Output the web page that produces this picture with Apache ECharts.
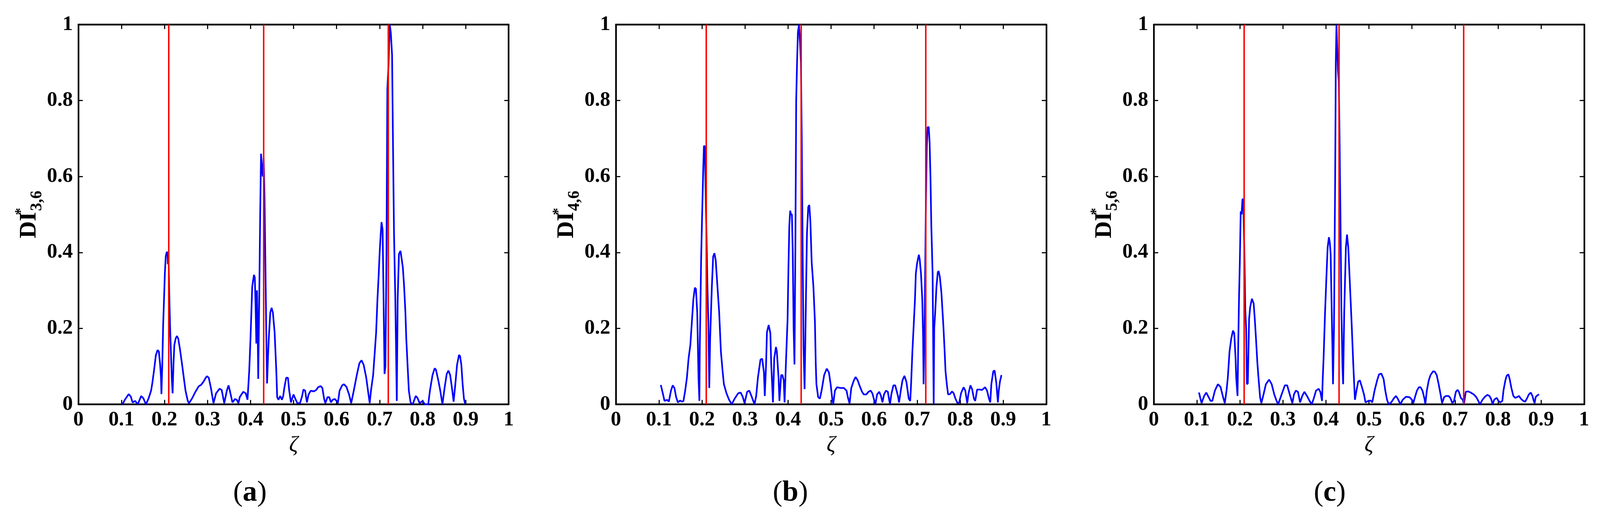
<!DOCTYPE html>
<html>
<head>
<meta charset="utf-8">
<script src="https://cdn.jsdelivr.net/npm/echarts@6/dist/echarts.min.js"></script>
<style>
html,body{margin:0;padding:0;background:#fff;overflow:hidden;}
#chart{position:absolute;left:0;top:0;width:100vw;height:100vh;}
</style>
</head>
<body>
<div id="chart"></div>
<script>
// ---------- DATA ----------
const xTicks = [0, 0.1, 0.2, 0.3, 0.4, 0.5, 0.6, 0.7, 0.8, 0.9, 1];
const yTicks = [0, 0.2, 0.4, 0.6, 0.8, 1];
const damageLocations = [0.209, 0.43, 0.723];
const captions = ['a', 'b', 'c'];
const yNames = ['3,6', '4,6', '5,6'];

// Panel (a): DI*_{3,6}
const zetaA = [0.1027,0.108,0.117,0.122,0.126,0.132,0.138,0.146,0.151,0.157,0.163,0.169,0.172,0.176,0.18,0.184,0.187,0.19,0.192,0.193,0.195,0.197,0.199,0.201,0.203,0.205,0.207,0.208,0.2095,0.2115,0.213,0.215,0.217,0.219,0.221,0.223,0.226,0.229,0.232,0.236,0.241,0.245,0.249,0.254,0.257,0.264,0.272,0.28,0.285,0.291,0.296,0.299,0.303,0.308,0.314,0.32,0.328,0.333,0.339,0.345,0.349,0.352,0.358,0.364,0.368,0.372,0.375,0.383,0.389,0.393,0.397,0.4,0.404,0.408,0.41,0.412,0.4135,0.415,0.4165,0.418,0.4205,0.4225,0.4245,0.4265,0.4285,0.4305,0.4325,0.4345,0.4365,0.4385,0.4405,0.4425,0.446,0.449,0.452,0.456,0.458,0.46,0.462,0.465,0.469,0.473,0.476,0.479,0.483,0.487,0.49,0.494,0.5,0.504,0.509,0.515,0.52,0.523,0.527,0.531,0.535,0.54,0.547,0.553,0.557,0.563,0.567,0.571,0.574,0.579,0.583,0.587,0.591,0.596,0.6,0.603,0.607,0.613,0.617,0.623,0.629,0.634,0.64,0.647,0.653,0.658,0.663,0.669,0.673,0.677,0.68,0.685,0.688,0.692,0.695,0.698,0.7,0.702,0.7045,0.707,0.709,0.7115,0.7135,0.716,0.718,0.721,0.7235,0.726,0.729,0.731,0.7335,0.7365,0.74,0.742,0.745,0.7485,0.751,0.754,0.757,0.76,0.762,0.765,0.768,0.772,0.777,0.784,0.788,0.793,0.8,0.805,0.813,0.817,0.823,0.828,0.831,0.837,0.841,0.846,0.851,0.856,0.86,0.864,0.869,0.872,0.876,0.88,0.8845,0.887,0.89,0.893,0.896,0.899];
const diA = [0,0.012,0.027,0.02,0.005,0.009,0,0.022,0.016,0,0.015,0.036,0.057,0.091,0.129,0.143,0.139,0.105,0.07,0.027,0.105,0.208,0.276,0.345,0.389,0.4,0.401,0.369,0.39,0.276,0.208,0.139,0.07,0.029,0.105,0.156,0.173,0.18,0.173,0.146,0.105,0.07,0.036,0.01,0.003,0.015,0.033,0.048,0.051,0.06,0.07,0.074,0.07,0.043,0.003,0.029,0.041,0.038,0.003,0.036,0.05,0.036,0.005,0.014,0.012,0.003,0.019,0.033,0.029,0.012,0.087,0.173,0.31,0.341,0.334,0.25,0.16,0.3,0.2,0.067,0.3,0.5,0.66,0.62,0.6,0.65,0.55,0.38,0.2,0.055,0.12,0.173,0.242,0.254,0.242,0.19,0.139,0.087,0.019,0.012,0.022,0.012,0.022,0.046,0.07,0.07,0.036,0.005,0.026,0.015,0.003,0.003,0.022,0.039,0.036,0.005,0.026,0.036,0.034,0.038,0.045,0.048,0.043,0.015,0.003,0.019,0.019,0.005,0.012,0.014,0.009,0.003,0.036,0.05,0.053,0.046,0.026,0.003,0.036,0.077,0.108,0.116,0.104,0.07,0.036,0.003,0.036,0.077,0.125,0.19,0.276,0.344,0.396,0.437,0.48,0.46,0.3,0.08,0.1,0.4,0.83,0.9,1.0,0.98,0.92,0.7,0.45,0.28,0.009,0.276,0.396,0.404,0.385,0.361,0.31,0.242,0.173,0.104,0.036,0.005,0,0.022,0.017,0.003,0.009,0,0,0.036,0.077,0.095,0.091,0.06,0.036,0,0.043,0.08,0.089,0.077,0.036,0.007,0.053,0.104,0.13,0.127,0.104,0.053,0.015,0];

// Panel (b): DI*_{4,6}
const zetaB = [0.1044,0.109,0.113,0.119,0.123,0.128,0.132,0.136,0.14,0.144,0.149,0.154,0.157,0.161,0.165,0.169,0.173,0.177,0.18,0.1835,0.186,0.189,0.192,0.194,0.195,0.1965,0.198,0.2,0.2016,0.203,0.2045,0.2065,0.208,0.2095,0.211,0.213,0.215,0.217,0.219,0.223,0.226,0.229,0.232,0.236,0.24,0.244,0.248,0.251,0.257,0.263,0.269,0.276,0.284,0.29,0.295,0.299,0.305,0.31,0.315,0.322,0.326,0.33,0.336,0.34,0.344,0.346,0.349,0.351,0.355,0.359,0.361,0.365,0.368,0.372,0.374,0.378,0.38,0.384,0.387,0.39,0.392,0.395,0.399,0.401,0.403,0.405,0.407,0.409,0.411,0.413,0.415,0.417,0.419,0.421,0.423,0.4255,0.428,0.43,0.432,0.434,0.436,0.4385,0.441,0.444,0.447,0.4495,0.452,0.455,0.459,0.4625,0.4645,0.466,0.47,0.474,0.478,0.484,0.49,0.495,0.499,0.503,0.505,0.509,0.514,0.522,0.53,0.536,0.539,0.543,0.547,0.553,0.557,0.562,0.566,0.572,0.576,0.582,0.587,0.592,0.596,0.6,0.603,0.607,0.612,0.616,0.6195,0.623,0.6275,0.632,0.635,0.637,0.64,0.645,0.649,0.653,0.656,0.658,0.662,0.666,0.6705,0.675,0.678,0.6805,0.684,0.686,0.689,0.692,0.695,0.697,0.7,0.704,0.706,0.709,0.712,0.714,0.715,0.717,0.7186,0.7206,0.7225,0.7245,0.727,0.729,0.731,0.733,0.736,0.7385,0.7398,0.742,0.745,0.748,0.75,0.753,0.7565,0.761,0.764,0.766,0.769,0.772,0.7765,0.781,0.785,0.789,0.794,0.798,0.802,0.808,0.812,0.8165,0.8195,0.824,0.828,0.832,0.835,0.8395,0.845,0.851,0.858,0.8625,0.867,0.87,0.8725,0.877,0.88,0.884,0.8877,0.8897,0.8925,0.896];
const diB = [0.051,0.029,0.009,0.012,0.007,0.036,0.05,0.043,0.019,0.005,0.01,0.007,0.009,0.036,0.07,0.122,0.156,0.225,0.276,0.307,0.304,0.242,0.07,0.009,0.156,0.26,0.379,0.48,0.555,0.62,0.68,0.68,0.6,0.5,0.42,0.297,0.208,0.043,0.173,0.31,0.389,0.398,0.379,0.31,0.242,0.139,0.087,0.053,0.029,0.012,0,0.015,0.029,0.031,0.019,0.003,0.033,0.036,0.022,0,0.022,0.07,0.118,0.12,0.084,0.022,0.105,0.19,0.209,0.187,0.105,0.005,0.122,0.151,0.139,0.07,0.009,0.077,0.077,0.063,0.005,0.105,0.225,0.36,0.47,0.51,0.5,0.5,0.4,0.2,0.105,0.4,0.8,0.9,0.98,1.0,0.95,0.9,0.7,0.4,0.15,0.04,0.23,0.45,0.52,0.525,0.48,0.374,0.31,0.218,0.105,0.053,0.019,0.015,0.036,0.077,0.094,0.084,0.053,0.012,0,0.036,0.045,0.043,0.043,0.036,0.019,0.002,0.043,0.063,0.072,0.063,0.05,0.033,0.026,0.026,0.033,0.036,0.029,0.012,0,0.026,0.033,0.022,0.005,0.026,0.036,0.033,0.012,0,0.026,0.05,0.05,0.033,0.019,0.005,0.036,0.063,0.075,0.06,0.036,0.015,0.009,0.053,0.139,0.207,0.276,0.344,0.372,0.394,0.382,0.344,0.276,0.173,0.053,0.173,0.344,0.55,0.68,0.73,0.73,0.69,0.6,0.47,0.344,0,0.2,0.242,0.31,0.348,0.351,0.334,0.293,0.207,0.139,0.087,0.053,0.026,0.027,0.034,0.029,0.015,0.003,0.005,0.029,0.045,0.036,0.003,0.029,0.05,0.039,0.015,0.009,0.039,0.039,0.038,0.045,0.036,0.015,0.005,0.053,0.087,0.089,0.057,0.005,0.036,0.06,0.077];

// Panel (c): DI*_{5,6}
const zetaC = [0.105,0.111,0.117,0.122,0.126,0.132,0.136,0.142,0.149,0.155,0.161,0.165,0.169,0.172,0.176,0.18,0.184,0.187,0.19,0.1916,0.1946,0.196,0.198,0.2,0.202,0.204,0.206,0.208,0.2095,0.211,0.2126,0.2146,0.2165,0.2185,0.2215,0.224,0.228,0.232,0.2345,0.2375,0.2406,0.2433,0.247,0.25,0.255,0.2605,0.268,0.274,0.28,0.2854,0.289,0.297,0.3046,0.31,0.316,0.322,0.3257,0.33,0.335,0.34,0.345,0.35,0.356,0.362,0.367,0.3716,0.377,0.383,0.387,0.391,0.3927,0.3946,0.398,0.4015,0.404,0.407,0.409,0.411,0.413,0.415,0.4165,0.4188,0.4215,0.423,0.4245,0.426,0.428,0.43,0.432,0.434,0.436,0.4385,0.44,0.4425,0.4464,0.449,0.452,0.456,0.46,0.4636,0.4674,0.471,0.475,0.479,0.4835,0.4885,0.492,0.498,0.504,0.5077,0.513,0.519,0.5235,0.5287,0.534,0.538,0.542,0.546,0.5517,0.5575,0.5625,0.567,0.573,0.5785,0.586,0.594,0.6,0.603,0.607,0.6115,0.616,0.62,0.6244,0.629,0.631,0.6345,0.639,0.643,0.649,0.653,0.6575,0.662,0.666,0.67,0.6747,0.679,0.685,0.689,0.694,0.6977,0.702,0.706,0.709,0.7135,0.718,0.7207,0.725,0.7307,0.7365,0.7437,0.7494,0.7537,0.758,0.7638,0.7695,0.7753,0.78,0.784,0.7874,0.791,0.797,0.801,0.805,0.81,0.8126,0.817,0.82,0.824,0.827,0.831,0.8356,0.84,0.8443,0.8486,0.853,0.8586,0.863,0.867,0.8716,0.876,0.88,0.883,0.885,0.8874,0.8917,0.8954];
const diC = [0.031,0.003,0.022,0.031,0.022,0.009,0.009,0.036,0.053,0.046,0.019,0.003,0.036,0.07,0.139,0.173,0.194,0.187,0.122,0.07,0.022,0.139,0.276,0.379,0.508,0.5,0.54,0.54,0.45,0.37,0.25,0.2,0.053,0.055,0.225,0.256,0.278,0.266,0.228,0.173,0.111,0.07,0.019,0.003,0.026,0.053,0.065,0.053,0.026,0.009,0,0.026,0.05,0.05,0.026,0.003,0.026,0.036,0.033,0.005,0.022,0.033,0.022,0.009,0,0.015,0.036,0.041,0.033,0.009,0.07,0.122,0.242,0.345,0.413,0.44,0.427,0.396,0.276,0.156,0.053,0.207,0.6,0.9,1.0,0.95,0.88,0.85,0.68,0.47,0.25,0.1,0.053,0.242,0.413,0.447,0.413,0.31,0.207,0.105,0.012,0.036,0.06,0.063,0.046,0.026,0.005,0.009,0.01,0.005,0.036,0.063,0.079,0.081,0.067,0.036,0.012,0,0.005,0.015,0.022,0.015,0,0.012,0.02,0.019,0.012,0.003,0.019,0.036,0.045,0.045,0.036,0.015,0,0.036,0.063,0.077,0.087,0.086,0.077,0.053,0.029,0.003,0.019,0.022,0.022,0.017,0.003,0.009,0.033,0.038,0.033,0.017,0.012,0,0.033,0.034,0.031,0.026,0.019,0.01,0,0.012,0.02,0.025,0.022,0.014,0,0.012,0.017,0.009,0.005,0.009,0.036,0.063,0.075,0.079,0.067,0.043,0.022,0.017,0.019,0.022,0.015,0.009,0.007,0.015,0.026,0.031,0.022,0.009,0.003,0.019,0.024,0.026];

const panels = [[zetaA, diA], [zetaB, diB], [zetaC, diC]];

// ---------- LAYOUT / STYLE (designed for 4328x1317, scaled to the actual viewport) ----------
const el = document.getElementById('chart');
const VW = el.clientWidth || window.innerWidth || 4328;
const VH = el.clientHeight || window.innerHeight || 1317;
const kx = VW / 4328, ky = VH / 1317, ks = Math.min(kx, ky);
const FONT = "'Liberation Serif', 'Times New Roman', serif";
const gridLeft = [212, 1666, 3121].map(v => v * kx);
const captionOffset = [-118, -110, -106];
const gridTop = 63 * ky, gridW = 1164 * kx, gridH = 973 * ky;

const chart = echarts.init(el, null, {renderer: 'canvas', width: VW, height: VH});

const fmt = v => (Math.abs(v) < 1e-9 ? '0' : Math.abs(v - 1) < 1e-9 ? '1' : v.toFixed(1));
const axisLine = {show: true, onZero: false, lineStyle: {color: '#000', width: 4.5 * ks}};
const axisTick = {show: true, inside: true, length: 12 * ks, lineStyle: {color: '#000', width: 3 * ks}};
const tickLabel = {show: true, color: '#000', fontFamily: FONT, fontWeight: 'bold', fontSize: 56 * ks, formatter: fmt, margin: 15 * ks};

const grid = [], xAxis = [], yAxis = [], series = [], graphic = [];
panels.forEach(([zs, ds], i) => {
  grid.push({left: gridLeft[i], top: gridTop, width: gridW, height: gridH, containLabel: false});
  const xmin = xTicks[0], xmax = xTicks[xTicks.length - 1];
  const ymin = yTicks[0], ymax = yTicks[yTicks.length - 1];
  xAxis.push({
    gridIndex: i, type: 'value', min: xmin, max: xmax, interval: xTicks[1] - xTicks[0], position: 'bottom',
    axisLine, axisTick, splitLine: {show: false}, axisLabel: tickLabel,
    name: 'ζ', nameLocation: 'middle', nameGap: 82 * ks,
    nameTextStyle: {fontFamily: FONT, fontStyle: 'italic', fontSize: 60 * ks, color: '#000'}
  });
  xAxis.push({
    gridIndex: i, type: 'value', min: xmin, max: xmax, interval: xTicks[1] - xTicks[0], position: 'top',
    axisLine, axisTick, splitLine: {show: false}, axisLabel: {show: false}
  });
  yAxis.push({
    gridIndex: i, type: 'value', min: ymin, max: ymax, interval: yTicks[1] - yTicks[0], position: 'left',
    axisLine, axisTick, splitLine: {show: false}, axisLabel: tickLabel,
    name: '{di|DI}{st|*}{sub|' + yNames[i] + '}', nameLocation: 'middle', nameRotate: 90, nameGap: 80 * ks,
    nameTextStyle: {
      color: '#000',
      rich: {
        di: {fontFamily: FONT, fontWeight: 'bold', fontSize: 64 * ks, lineHeight: 86 * ks, verticalAlign: 'middle', color: '#000'},
        st: {fontFamily: FONT, fontWeight: 'bold', fontSize: 40 * ks, lineHeight: 40 * ks, verticalAlign: 'top', width: 3 * ks, color: '#000'},
        sub: {fontFamily: FONT, fontWeight: 'bold', fontSize: 44 * ks, lineHeight: 44 * ks, verticalAlign: 'bottom', color: '#000'}
      }
    }
  });
  yAxis.push({
    gridIndex: i, type: 'value', min: ymin, max: ymax, interval: yTicks[1] - yTicks[0], position: 'right',
    axisLine, axisTick, splitLine: {show: false}, axisLabel: {show: false}
  });
  series.push({
    type: 'line', xAxisIndex: 2 * i, yAxisIndex: 2 * i,
    data: zs.map((z, k) => [z, ds[k]]),
    showSymbol: false, symbol: 'none', animation: false, clip: true,
    lineStyle: {color: '#0000ff', width: 4.5 * ks}, z: 2,
    markLine: {
      silent: true, symbol: ['none', 'none'], animation: false,
      label: {show: false},
      lineStyle: {color: '#ff0000', width: 4 * ks, type: 'solid'},
      data: damageLocations.map(d => ({xAxis: d}))
    }
  });
  graphic.push({
    type: 'text', x: gridLeft[i] + gridW / 2 + captionOffset[i] * kx, y: 1264 * ky,
    style: {
      text: '{p|(}{b|' + captions[i] + '}{p|)}',
      align: 'center', verticalAlign: 'middle', textAlign: 'center', textVerticalAlign: 'middle',
      rich: {
        p: {fontFamily: FONT, fontSize: 78 * ks, fill: '#000', color: '#000'},
        b: {fontFamily: FONT, fontSize: 78 * ks, fontWeight: 'bold', fill: '#000', color: '#000'}
      }
    }
  });
});

chart.setOption({
  backgroundColor: '#fff',
  animation: false,
  grid, xAxis, yAxis, series, graphic
});
</script>
</body>
</html>
